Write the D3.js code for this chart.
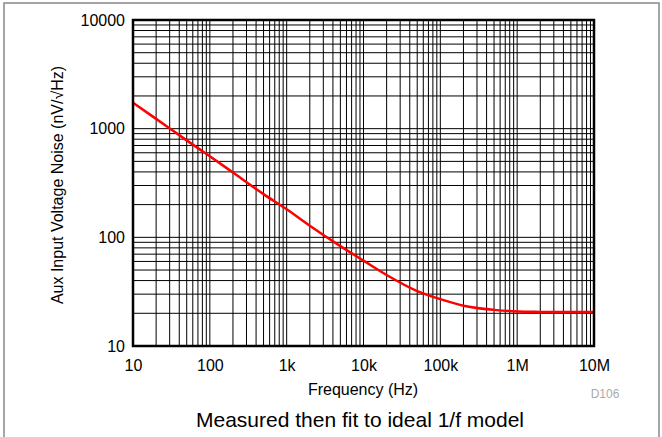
<!DOCTYPE html>
<html>
<head>
<meta charset="utf-8">
<script src="https://cdn.jsdelivr.net/npm/d3@7"></script>
<style>
  body { margin: 0; background: #fff; }
  text { font-family: "Liberation Sans", Arial, sans-serif; }
</style>
</head>
<body>
<div id="chart"></div>
<script>
// Noise curve
const freqs = [10, 20, 50, 100, 200, 500, 1e3, 2e3, 5e3, 1e4, 2e4, 5e4, 1e5, 2e5, 5e5, 1e6, 2e6, 5e6, 1e7];
const noise = [1735, 1230, 780, 557, 395, 250, 181, 128, 83, 61, 45, 32, 27, 23.5, 21.5, 20.8, 20.6, 20.5, 20.5];

const xTicks = [10, 100, 1e3, 1e4, 1e5, 1e6, 1e7];
const xTickLabels = ["10", "100", "1k", "10k", "100k", "1M", "10M"];
const yTicks = [10, 100, 1000, 10000];
const yTickLabels = ["10", "100", "1000", "10000"];

const width = 662, height = 437;
const margin = { top: 20, right: 68, bottom: 91, left: 133 };

const svg = d3.select("#chart").append("svg")
  .attr("width", width)
  .attr("height", height);

// outer frame
svg.append("rect")
  .attr("x", 4).attr("y", 3)
  .attr("width", 655).attr("height", 460)
  .attr("fill", "none")
  .attr("stroke", "#888")
  .attr("stroke-width", 1.5);

const x = d3.scaleLog().domain([10, 1e7]).range([margin.left, width - margin.right]);
const y = d3.scaleLog().domain([10, 10000]).range([height - margin.bottom, margin.top]);

// minor + major grid values (1..9 per decade)
const xGrid = [];
for (let d = 10; d < 1e7; d *= 10) for (let m = 1; m < 10; m++) xGrid.push(d * m);
xGrid.push(1e7);
const yGrid = [];
for (let d = 10; d < 10000; d *= 10) for (let m = 1; m < 10; m++) yGrid.push(d * m);
yGrid.push(10000);

const grid = svg.append("g").attr("stroke", "#000").attr("stroke-width", 1);
grid.selectAll("line.v").data(xGrid).enter().append("line")
  .attr("class", "v")
  .attr("x1", d => x(d)).attr("x2", d => x(d))
  .attr("y1", y(10)).attr("y2", y(10000));
grid.selectAll("line.h").data(yGrid).enter().append("line")
  .attr("class", "h")
  .attr("x1", x(10)).attr("x2", x(1e7))
  .attr("y1", d => y(d)).attr("y2", d => y(d));

// curve
const pts = freqs.map((f, i) => [f, noise[i]]);
const line = d3.line()
  .x(d => x(d[0]))
  .y(d => y(d[1]))
  .curve(d3.curveMonotoneX);
svg.append("path")
  .datum(pts)
  .attr("d", line)
  .attr("fill", "none")
  .attr("stroke", "#ff0000")
  .attr("stroke-width", 2.5);

// plot border
svg.append("rect")
  .attr("x", x(10)).attr("y", y(10000))
  .attr("width", x(1e7) - x(10))
  .attr("height", y(10) - y(10000))
  .attr("fill", "none")
  .attr("stroke", "#000")
  .attr("stroke-width", 2.5);

// axes labels (ticks drawn by grid)
const xAxis = d3.axisBottom(x).tickValues(xTicks)
  .tickFormat((d, i) => xTickLabels[i]).tickSize(0).tickPadding(14);
const gx = svg.append("g")
  .attr("transform", `translate(0,${y(10)})`)
  .call(xAxis);
gx.select(".domain").remove();
gx.selectAll("text").attr("font-size", 16).attr("fill", "#000")
  .attr("font-family", "Liberation Sans, Arial, sans-serif");

const yAxis = d3.axisLeft(y).tickValues(yTicks)
  .tickFormat((d, i) => yTickLabels[i]).tickSize(0).tickPadding(8);
const gy = svg.append("g")
  .attr("transform", `translate(${x(10)},0)`)
  .call(yAxis);
gy.select(".domain").remove();
gy.selectAll("text").attr("font-size", 16).attr("fill", "#000")
  .attr("font-family", "Liberation Sans, Arial, sans-serif");

svg.append("text")
  .attr("x", 363).attr("y", 395)
  .attr("text-anchor", "middle")
  .attr("font-size", 16)
  .text("Frequency (Hz)");

svg.append("text")
  .attr("transform", "translate(63,185) rotate(-90)")
  .attr("text-anchor", "middle")
  .attr("font-size", 16)
  .text("Aux Input Voltage Noise (nV/\u221AHz)");

svg.append("text")
  .attr("x", 605).attr("y", 397.5)
  .attr("text-anchor", "middle")
  .attr("font-size", 12)
  .attr("fill", "#aaa")
  .text("D106");

svg.append("text")
  .attr("x", 360).attr("y", 427)
  .attr("text-anchor", "middle")
  .attr("font-size", 21)
  .text("Measured then fit to ideal 1/f model");
</script>
</body>
</html>
